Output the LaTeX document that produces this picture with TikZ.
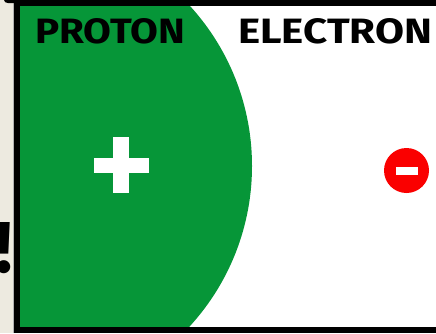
\documentclass[tikz,border=0pt]{standalone}
\usepackage{graphicx}
\usepackage{fontspec}
\setmainfont{Fira Sans}
\definecolor{protongreen}{RGB}{6,150,56}
\definecolor{paper}{RGB}{237,234,224}
\definecolor{minusred}{RGB}{250,0,0}
\tikzset{
  frameband/.style={fill=black, draw=none},
  label/.style={inner sep=0pt, anchor=north west},
  whitebar/.style={fill=white, draw=none, inner sep=0pt, minimum width=#1},
}
\begin{document}
\begin{tikzpicture}[x=1pt, y=-1pt]
\useasboundingbox (0,0) rectangle (436,333);
% background
\fill[paper] (0,0) rectangle (436,333);
\node[inner sep=0pt, anchor=north west, font=\bfseries] (bang) at (-5,222) {\resizebox{!}{50pt}{!}};
% panel
\fill[white] (19,5) rectangle (436,327);
\begin{scope}
  \clip (19,5) rectangle (436,327);
  \fill[protongreen] (14.5,166) circle[radius=237.5];
\end{scope}
% frame
\fill[gray!60] (12.5,0) rectangle (14,333);
\fill[black] (14,0) rectangle (20,333);
\fill[black] (14,0) rectangle (436,6);
\fill[black] (14,327) rectangle (436,333);
\fill[black] (4,0) -- (14,0) -- (14,3) -- (8,3) to[out=180,in=-90] (4,0) -- cycle;
% labels
\node[label] (proton) at (35,18) {\resizebox{150pt}{25pt}{\bfseries PROTON}};
\node[label] (electron) at (238,18) {\resizebox{194pt}{25pt}{\bfseries ELECTRON}};
% plus sign
\node[fill=white, inner sep=0pt, minimum width=16pt, minimum height=56pt] (plusv) at (121,165) {};
\node[fill=white, inner sep=0pt, minimum width=55pt, minimum height=15pt] (plush) at (121.5,165.5) {};
% minus sign
\node[circle, fill=minusred, inner sep=0pt, minimum size=45pt] (minus) at (406.5,170.5) {};
\node[fill=white, inner sep=0pt, minimum width=22pt, minimum height=8pt] (minusbar) at (minus.center) {};
\end{tikzpicture}
\end{document}
